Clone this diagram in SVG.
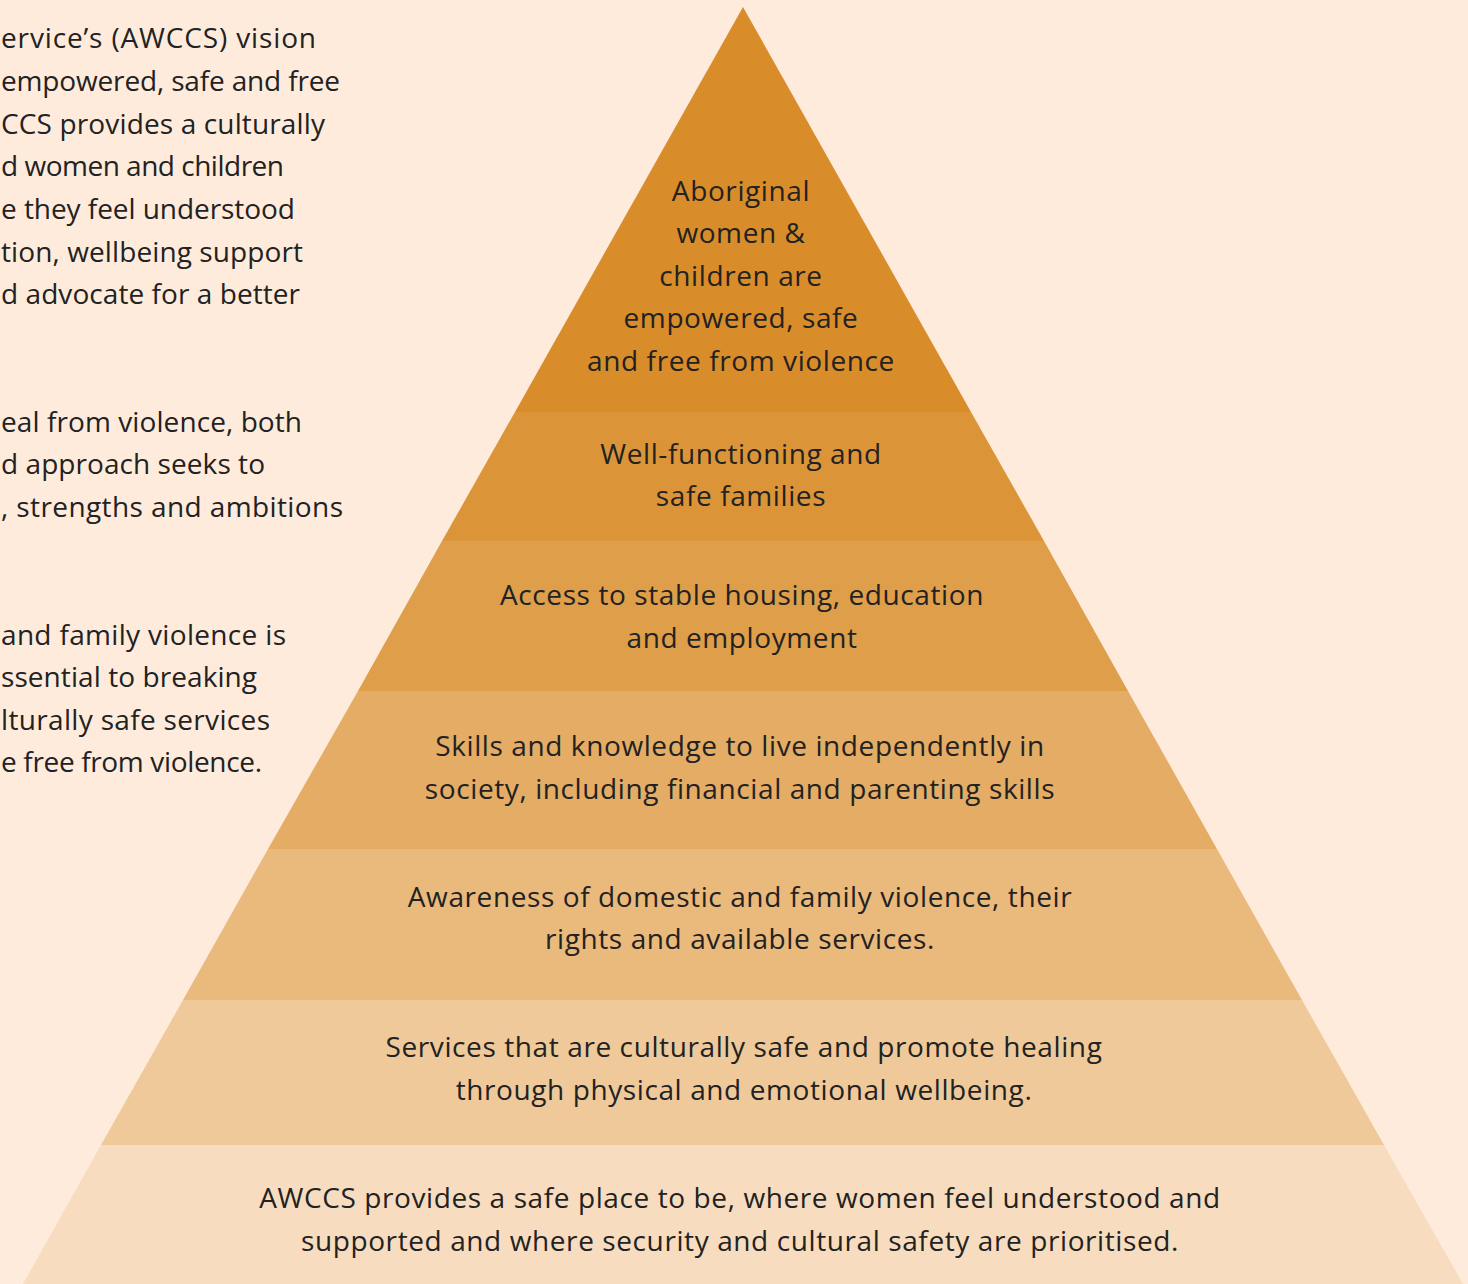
<svg xmlns="http://www.w3.org/2000/svg" width="1468" height="1284" viewBox="0 0 1468 1284">
<style>
text{font-family:"Open Sans","Noto Sans","Liberation Sans",sans-serif;font-size:28px;letter-spacing:0.6px;fill:#222222}
.c{text-anchor:middle}
.l{letter-spacing:0}
</style>
<rect width="1468" height="1284" fill="#FEEBDC"/>
<g id="intro-text">
<text class="l" x="1" y="48" textLength="315" lengthAdjust="spacing">ervice’s (AWCCS) vision</text>
<text class="l" x="1" y="91" textLength="339" lengthAdjust="spacing">empowered, safe and free</text>
<text class="l" x="1" y="134" textLength="324" lengthAdjust="spacing">CCS provides a culturally</text>
<text class="l" x="1" y="176" textLength="283" lengthAdjust="spacing">d women and children</text>
<text class="l" x="1" y="219" textLength="294" lengthAdjust="spacing">e they feel understood</text>
<text class="l" x="1" y="262" textLength="302" lengthAdjust="spacing">tion, wellbeing support</text>
<text class="l" x="1" y="304" textLength="299" lengthAdjust="spacing">d advocate for a better</text>
<text class="l" x="1" y="432" textLength="301" lengthAdjust="spacing">eal from violence, both</text>
<text class="l" x="1" y="474" textLength="264" lengthAdjust="spacing">d approach seeks to</text>
<text class="l" x="1" y="517" textLength="342" lengthAdjust="spacing">, strengths and ambitions</text>
<text class="l" x="1" y="645" textLength="285" lengthAdjust="spacing">and family violence is</text>
<text class="l" x="1" y="687" textLength="256" lengthAdjust="spacing">ssential to breaking</text>
<text class="l" x="1" y="730" textLength="269" lengthAdjust="spacing">lturally safe services</text>
<text class="l" x="1" y="772" textLength="261" lengthAdjust="spacing">e free from violence.</text>
</g>
<g id="level-1">
<polygon points="743,7 971,412 515,412" fill="#D98C2A"/>
<text class="c" x="741" y="201">Aboriginal</text>
<text class="c" x="741" y="243">women &amp;</text>
<text class="c" x="741" y="286">children are</text>
<text class="c" x="741" y="328">empowered, safe</text>
<text class="c" x="741" y="371">and free from violence</text>
</g>
<g id="level-2">
<polygon points="515,412 971,412 1044,541 442,541" fill="#DB9538"/>
<text class="c" x="741" y="464">Well-functioning and</text>
<text class="c" x="741" y="506">safe families</text>
</g>
<g id="level-3">
<polygon points="442,541 1044,541 1128,691 358,691" fill="#DE9E4A"/>
<text class="c" x="742" y="605">Access to stable housing, education</text>
<text class="c" x="742" y="648">and employment</text>
</g>
<g id="level-4">
<polygon points="358,691 1128,691 1217,849 268,849" fill="#E4AC65"/>
<text class="c" x="740" y="756">Skills and knowledge to live independently in</text>
<text class="c" x="740" y="799">society, including financial and parenting skills</text>
</g>
<g id="level-5">
<polygon points="268,849 1217,849 1302,1000 183,1000" fill="#EAB97C"/>
<text class="c" x="740" y="907">Awareness of domestic and family violence, their</text>
<text class="c" x="740" y="949">rights and available services.</text>
</g>
<g id="level-6">
<polygon points="183,1000 1302,1000 1384,1145 101,1145" fill="#EFC99A"/>
<text class="c" x="744" y="1057">Services that are culturally safe and promote healing</text>
<text class="c" x="744" y="1100">through physical and emotional wellbeing.</text>
</g>
<g id="level-7">
<polygon points="101,1145 1384,1145 1463,1284 23,1284" fill="#F7DCBF"/>
<text class="c" x="740" y="1208">AWCCS provides a safe place to be, where women feel understood and</text>
<text class="c" x="740" y="1251">supported and where security and cultural safety are prioritised.</text>
</g>
</svg>
